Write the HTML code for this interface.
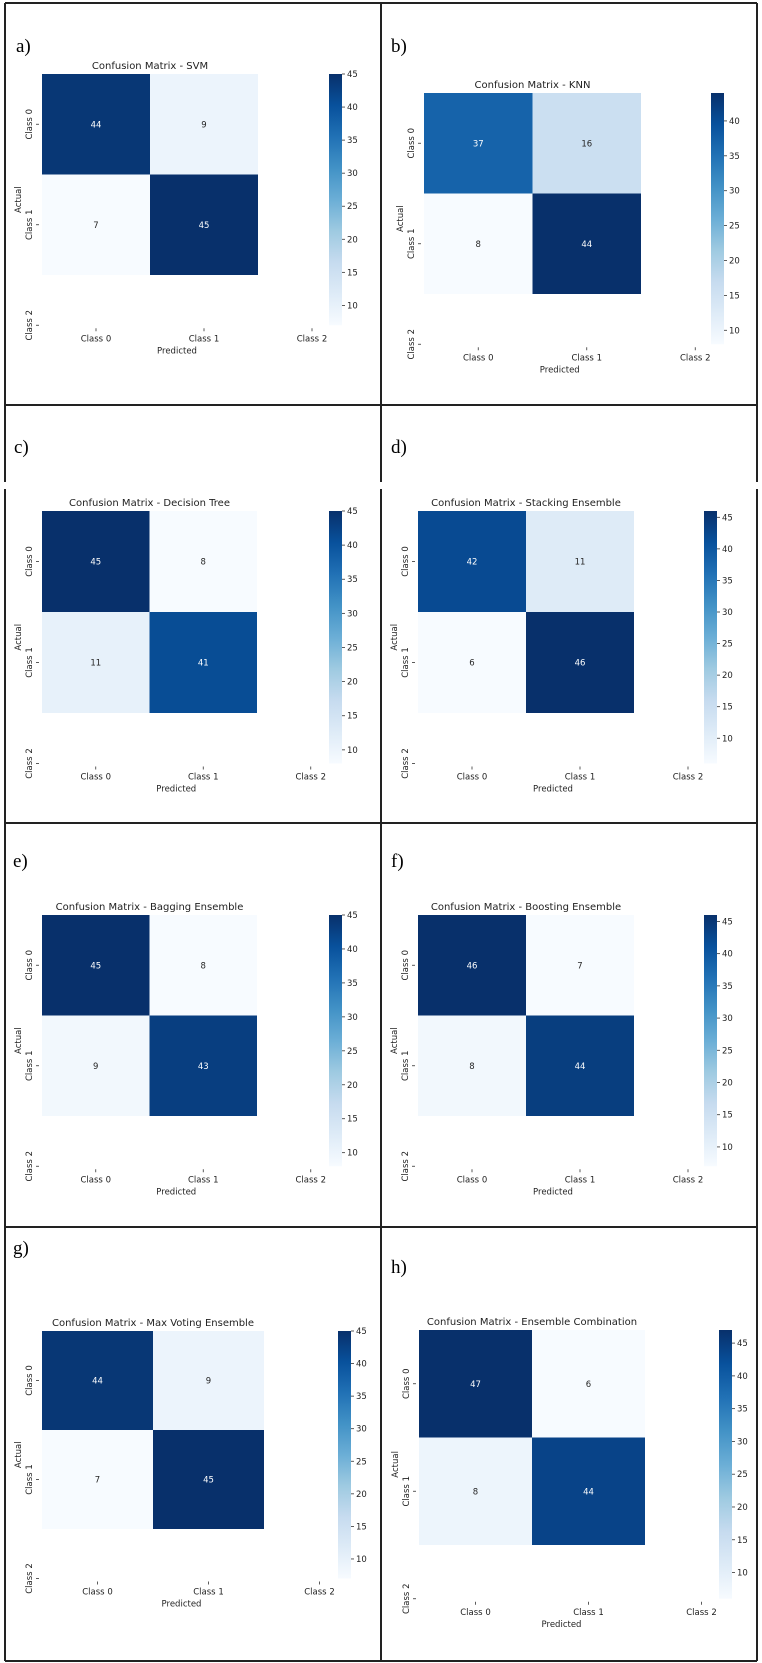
<!DOCTYPE html>
<html><head><meta charset="utf-8"><style>
body{margin:0;background:#fff}
svg{display:block}
text{font-family:"DejaVu Sans","Liberation Sans",sans-serif}
.lbl{font-family:"Liberation Serif",serif;font-size:19px}
</style></head><body>
<svg id="fig" width="762" height="1663" viewBox="0 0 762 1663" xmlns="http://www.w3.org/2000/svg">
<rect x="0" y="0" width="762" height="1663" fill="#fff"/>
<g id="grid" stroke="#222" stroke-width="2" fill="none">
<line x1="5" y1="3" x2="757" y2="3"/>
<line x1="5" y1="1661" x2="757" y2="1661"/>
<line x1="5" y1="405" x2="757" y2="405"/>
<line x1="5" y1="823" x2="757" y2="823"/>
<line x1="5" y1="1227" x2="757" y2="1227"/>
<line x1="5" y1="3" x2="5" y2="482"/><line x1="5" y1="489" x2="5" y2="1661"/>
<line x1="381" y1="3" x2="381" y2="482"/><line x1="381" y1="489" x2="381" y2="1661"/>
<line x1="757" y1="3" x2="757" y2="482"/><line x1="757" y1="489" x2="757" y2="1661"/>
</g>
<g>
<text class="lbl" x="16" y="52">a)</text>
<text class="lbl" x="391" y="52">b)</text>
<text class="lbl" x="14" y="453">c)</text>
<text class="lbl" x="391" y="453">d)</text>
<text class="lbl" x="13" y="867">e)</text>
<text class="lbl" x="391" y="867">f)</text>
<text class="lbl" x="13" y="1254">g)</text>
<text class="lbl" x="391" y="1273">h)</text>
</g>
</svg>
<script>
const titles = ["SVM","KNN","Decision Tree","Stacking Ensemble","Bagging Ensemble","Boosting Ensemble","Max Voting Ensemble","Ensemble Combination"];
const classLabels = ["Class 0","Class 1","Class 2"];
const matSVM = [[44,9],[7,45]];
const matKNN = [[37,16],[8,44]];
const matDT = [[45,8],[11,41]];
const matStack = [[42,11],[6,46]];
const matBag = [[45,8],[9,43]];
const matBoost = [[46,7],[8,44]];
const matVote = [[44,9],[7,45]];
const matComb = [[47,6],[8,44]];
const matrices = [matSVM,matKNN,matDT,matStack,matBag,matBoost,matVote,matComb];
const cbTicks = [10,15,20,25,30,35,40,45];

// layout (pixels) – not data
const layout = [
 {x:42,y:74,w:216,h:201,cb:329},
 {x:424,y:93,w:217,h:201,cb:711},
 {x:42,y:511,w:215,h:202,cb:329},
 {x:418,y:511,w:216,h:202,cb:704},
 {x:42,y:915,w:215,h:201,cb:329},
 {x:418,y:915,w:216,h:201,cb:704},
 {x:42,y:1331,w:222,h:198,cb:338},
 {x:419,y:1330,w:226,h:215,cb:719}
];
const stops=["#f7fbff","#deebf7","#c6dbef","#9ecae1","#6baed6","#4292c6","#2171b5","#08519c","#08306b"];
function hex(c){return [1,3,5].map(i=>parseInt(c.substr(i,2),16));}
function blues(t){t=Math.max(0,Math.min(1,t));const p=t*8,i=Math.min(7,Math.floor(p)),f=p-i;
 const a=hex(stops[i]),b=hex(stops[i+1]);return "rgb("+a.map((v,k)=>Math.round(v+(b[k]-v)*f)).join(",")+")";}
const NS="http://www.w3.org/2000/svg";
const svg=document.getElementById('fig');
function el(tag,attrs,parent,txt){const e=document.createElementNS(NS,tag);for(const k in attrs)e.setAttribute(k,attrs[k]);if(txt!==undefined)e.textContent=txt;parent.appendChild(e);return e;}
const defs=el('defs',{},svg);
const gr=el('linearGradient',{id:'bluesGrad',x1:'0',y1:'1',x2:'0',y2:'0'},defs);
stops.forEach((c,i)=>el('stop',{offset:(i/8),'stop-color':c},gr));

matrices.forEach((m,pi)=>{
 const L=layout[pi];
 const flat=m.flat();const vmin=Math.min(...flat),vmax=Math.max(...flat);
 const cw=L.w/2,ch=L.h/2;
 const xs=i=>L.x+(i+0.5)*cw, ys=i=>L.y+(i+0.5)*ch;
 const g=el('g',{},svg);
 
 
 const t=el('text',{x:L.x+L.w/2,y:L.y-5,'text-anchor':'middle','font-size':'10',fill:'#222'},g,'Confusion Matrix - '+titles[pi]);
 
 
 m.forEach((row,r)=>row.forEach((v,c)=>{
  const tn=(v-vmin)/(vmax-vmin);
  const rc=el('rect',{x:L.x+c*cw,y:L.y+r*ch,width:cw,height:ch,fill:blues(tn)},g);
  
  
  const tx=el('text',{x:xs(c),y:ys(r)+3,'text-anchor':'middle','font-size':'8.5',fill:tn>0.5?'#fff':'#262626'},g,String(v));
  
  
 }));
 const bottom=L.y+2.5*ch;
 classLabels.forEach((lb,i)=>{
  const x=xs(i);
  el('line',{x1:x,y1:bottom+3,x2:x,y2:bottom+6,stroke:'#333','stroke-width':0.8},g);
  const xt=el('text',{x:x,y:bottom+16,'text-anchor':'middle','font-size':'8.5',fill:'#222'},g,lb);
  
  
  const y=ys(i);
  el('line',{x1:L.x-6,y1:y,x2:L.x-3,y2:y,stroke:'#333','stroke-width':0.8},g);
  const yt=el('text',{x:L.x-10,y:y,'text-anchor':'middle','font-size':'8.5',fill:'#222',transform:'rotate(-90 '+(L.x-10)+' '+y+')'},g,lb);
  
  
 });
 const xl=el('text',{x:(L.x+xs(2)+cw/2)/2-27,y:bottom+28,'text-anchor':'middle','font-size':'8.5',fill:'#222'},g,'Predicted');
 
 
 const ay=(L.y+bottom)/2, ax=L.x-21;
 const yl=el('text',{x:ax,y:ay,'text-anchor':'middle','font-size':'8.5',fill:'#222',transform:'rotate(-90 '+ax+' '+ay+')'},g,'Actual');
 
 
 const cbh=bottom-L.y;
 const cb=el('rect',{x:L.cb,y:L.y,width:13,height:cbh,fill:'url(#bluesGrad)'},g);
 
 
 cbTicks.forEach(tv=>{
  if(tv<vmin||tv>vmax)return;
  const y=bottom-(tv-vmin)/(vmax-vmin)*cbh;
  el('line',{x1:L.cb+13,y1:y,x2:L.cb+16,y2:y,stroke:'#333','stroke-width':0.8},g);
  const ct=el('text',{x:L.cb+18,y:y+3,'font-size':'8.5',fill:'#222'},g,String(tv));
  
  
 });
});
</script>
</body></html>
